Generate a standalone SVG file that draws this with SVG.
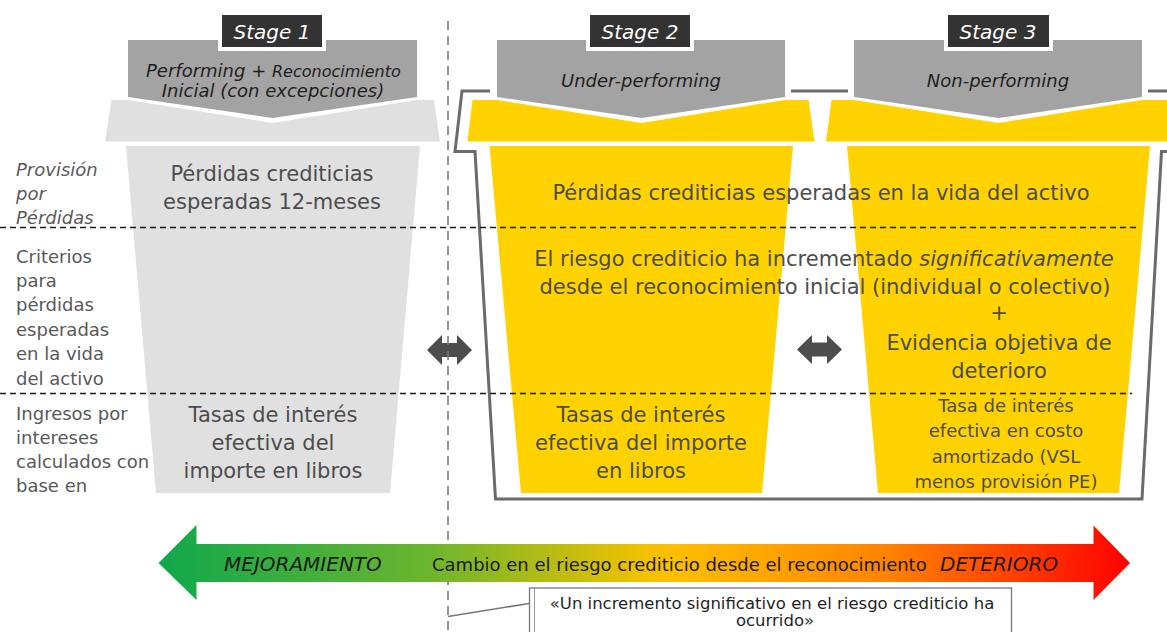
<svg xmlns="http://www.w3.org/2000/svg" width="1167" height="632" viewBox="0 0 1167 632">
<defs>
<linearGradient id="grad" gradientUnits="userSpaceOnUse" x1="158" y1="0" x2="1130" y2="0">
<stop offset="0" stop-color="#0fa84c"/>
<stop offset="0.28" stop-color="#6cb52e"/>
<stop offset="0.5" stop-color="#f2c100"/>
<stop offset="0.53" stop-color="#ffbf00"/>
<stop offset="0.75" stop-color="#ff8300"/>
<stop offset="1" stop-color="#ff0000"/>
</linearGradient>
<style>
.t{font-family:"DejaVu Sans","Liberation Sans",sans-serif;fill:#4d4d4d}
.it{font-style:italic}
.c{text-anchor:middle}
.lbl{font-size:18px;fill:#595959}
.bd{font-size:21px}
.sm{font-size:18px}
.hdr{fill:#a3a3a3}
.tag{fill:#333333;stroke:#ffffff;stroke-width:4}
.tagt{fill:#ffffff;font-size:20px;font-style:italic}
.ht{fill:#1f1f1f;font-size:18px;font-style:italic}
.grey{fill:#e0e0e0}
.yel{fill:#ffd200}
.frame{fill:none;stroke:#6b6b6b;stroke-width:3}
.dash{fill:none;stroke:#1a1a1a;stroke-width:1.3;stroke-dasharray:6 4}
.vdash{fill:none;stroke:#7a7a7a;stroke-width:1.6;stroke-dasharray:9 6}
.darr{fill:#4d4d4d}
</style>
</defs>
<rect width="1167" height="632" fill="#ffffff"/>

<g id="frame">
<path class="frame" d="M490,91 H462 L455,151.5 H475 L495.5,499 H1142 L1161.5,151.5 H1170"/>
<path class="frame" d="M791,91 H848 M1148,91 H1170"/>
</g>

<g id="stage1">
<polygon class="grey" points="126,146 420,146 390,493 156,493"/>
<polygon class="grey" points="105,141.5 111.5,100 128,100 272.5,123 417,100 434,100 440,141.5"/>
<polygon class="hdr" fill="#9d9d9d" points="128,40 417,40 417,97 272.5,118 128,97"/>
<rect class="tag" x="220" y="13" width="104" height="36"/>
<text class="t tagt c" x="272" y="39">Stage 1</text>
<text class="t ht" x="146" y="77">Performing <tspan font-style="normal">+</tspan> <tspan font-size="16px">Reconocimiento</tspan></text>
<text class="t ht" x="273" y="97" font-size="15px" text-anchor="middle">Inicial (con excepciones)</text>
<text class="t bd c" x="272" y="181">Pérdidas crediticias</text>
<text class="t bd c" x="272" y="209">esperadas 12-meses</text>
<text class="t bd c" x="273" y="422">Tasas de interés</text>
<text class="t bd c" x="273" y="450">efectiva del</text>
<text class="t bd c" x="273" y="478">importe en libros</text>
</g>

<g id="stage2">
<polygon class="yel" points="489.5,146 793,146 762,493 521,493"/>
<polygon class="yel" points="467.5,141.5 472.5,100 497,100 641.5,123 785,100 808.5,100 814.5,141.5"/>
<polygon class="hdr" points="497,40 785,40 785,97 641.5,118 497,97"/>
<rect class="tag" x="588" y="13" width="104" height="36"/>
<text class="t tagt c" x="640" y="39">Stage 2</text>
<text class="t ht c" x="641" y="87">Under-performing</text>
<text class="t bd c" x="641" y="422">Tasas de interés</text>
<text class="t bd c" x="641" y="450">efectiva del importe</text>
<text class="t bd c" x="641" y="478">en libros</text>
</g>

<g id="stage3">
<polygon class="yel" points="847,146 1150,146 1119,493 878,493"/>
<polygon class="yel" points="826,141.5 831.5,100 854,100 998.5,123 1142,100 1175,100 1175,141.5"/>
<polygon class="hdr" points="854,40 1142,40 1142,97 998.5,118 854,97"/>
<rect class="tag" x="946" y="13" width="105" height="36"/>
<text class="t tagt c" x="998" y="39">Stage 3</text>
<text class="t ht c" x="998" y="87">Non-performing</text>
<text class="t sm c" x="1006" y="412">Tasa de interés</text>
<text class="t sm c" x="1006" y="437">efectiva en costo</text>
<text class="t sm c" x="1006" y="463">amortizado (VSL</text>
<text class="t sm c" x="1006" y="488">menos provisión PE)</text>
</g>

<g id="shared-texts">
<text class="t bd c" x="821" y="200">Pérdidas crediticias esperadas en la vida del activo</text>
<text class="t bd c" x="824" y="266">El riesgo crediticio ha incrementado <tspan font-style="italic">significativamente</tspan></text>
<text class="t bd c" x="825" y="294">desde el reconocimiento inicial (individual o colectivo)</text>
<text class="t bd c" x="999" y="320">+</text>
<text class="t bd c" x="999" y="350">Evidencia objetiva de</text>
<text class="t bd c" x="999" y="378">deterioro</text>
</g>

<g id="row-labels">
<text class="t lbl it" x="16" y="176">Provisión</text>
<text class="t lbl it" x="16" y="200">por</text>
<text class="t lbl it" x="16" y="224">Pérdidas</text>
<text class="t lbl" x="16" y="263">Criterios</text>
<text class="t lbl" x="16" y="287">para</text>
<text class="t lbl" x="16" y="311">pérdidas</text>
<text class="t lbl" x="16" y="336">esperadas</text>
<text class="t lbl" x="16" y="360">en la vida</text>
<text class="t lbl" x="16" y="385">del activo</text>
<text class="t lbl" x="16" y="420">Ingresos por</text>
<text class="t lbl" x="16" y="444">intereses</text>
<text class="t lbl" x="16" y="468">calculados con</text>
<text class="t lbl" x="16" y="492">base en</text>
</g>

<g id="connectors">
<line class="dash" x1="0" y1="227.5" x2="1140" y2="227.5"/>
<line class="dash" x1="0" y1="393.5" x2="1132" y2="393.5"/>
<path class="darr" d="M427,350 L442,335 V343 H457 V335 L472,350 L457,365 V357 H442 V365 Z"/>
<path class="darr" d="M797,349.5 L812,335 V342.5 H827 V335 L842,349.5 L827,364 V356.5 H812 V364 Z"/>
<line class="vdash" x1="448" y1="21" x2="448" y2="632"/>
<path d="M448,616.5 L529,603.5" fill="none" stroke="#777777" stroke-width="1.5"/>
</g>

<g id="scale-arrow">
<polygon fill="url(#grad)" points="158.5,563 196.5,525 196.5,544 1093.5,544 1093.5,525.5 1130,563 1093.5,600 1093.5,582 196.5,582 196.5,600"/>
<text class="t it" x="224" y="571" font-size="20px" fill="#1a1a1a" style="fill:#1a1a1a">MEJORAMIENTO</text>
<text class="t" x="432" y="571" font-size="18px" style="fill:#1a1a1a">Cambio en el riesgo crediticio desde el reconocimiento</text>
<text class="t it" x="940" y="571" font-size="20px" style="fill:#1a1a1a">DETERIORO</text>
</g>

<g id="callout">
<rect x="529.5" y="588" width="482" height="60" fill="#ffffff" stroke="#777777" stroke-width="1.3"/>
<line x1="534.5" y1="588" x2="534.5" y2="632" stroke="#999999" stroke-width="1"/>
<text class="t c" x="772" y="609" font-size="16.5px" style="fill:#1f1f1f">«Un incremento significativo en el riesgo crediticio ha</text>
<text class="t c" x="775" y="626" font-size="16.5px" style="fill:#1f1f1f">ocurrido»</text>
</g>
</svg>
